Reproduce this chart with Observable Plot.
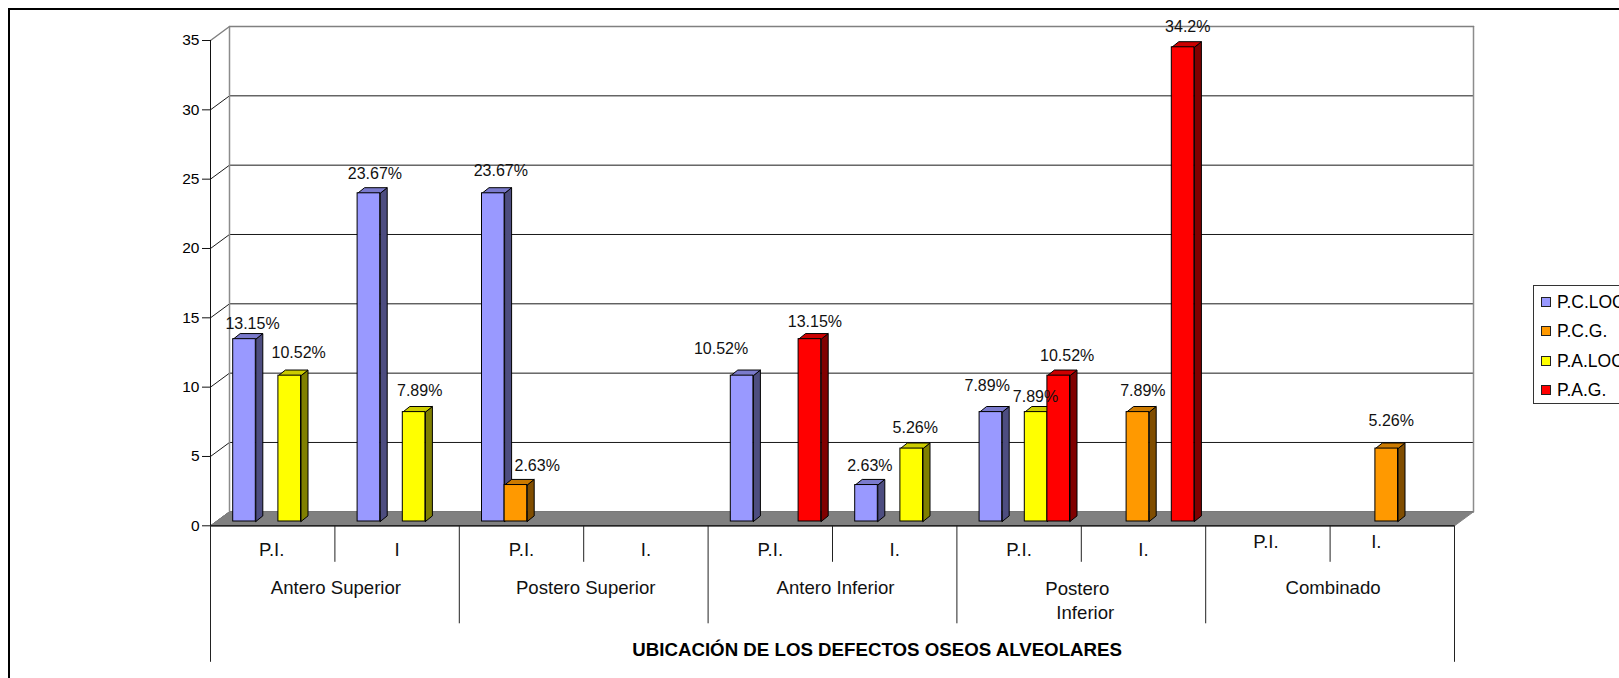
<!DOCTYPE html>
<html>
<head>
<meta charset="utf-8">
<script src="https://cdn.jsdelivr.net/npm/d3@7"></script>
<script src="https://cdn.jsdelivr.net/npm/@observablehq/plot@0.6"></script>
<style>
  html, body { margin: 0; padding: 0; background: #fff; overflow: hidden; }
  #page { position: relative; width: 1619px; height: 678px; overflow: hidden; font-family: "Liberation Sans", Arial, sans-serif; }
  #page svg { display: block; position: absolute; left: 0; top: 0; }
  #border { position: absolute; left: 8px; top: 8px; width: 1700px; height: 800px; border: 2px solid #000; box-sizing: border-box; }
  #legend { position: absolute; left: 1533px; top: 285px; width: 130px; height: 119px; border: 1px solid #333; background: #fff; box-sizing: border-box; }
  #legend .row { position: absolute; left: 7px; height: 20px; white-space: nowrap; font-size: 17.5px; line-height: 20px; color: #000; }
  #legend .sw { position: absolute; left: 0; top: 5px; width: 10px; height: 10px; border: 1px solid #222; box-sizing: border-box; }
  #legend .lb { position: absolute; left: 16px; top: 0; }
</style>
</head>
<body>
<div id="page"></div>
<script>
// ---- data ----
const subLabels = ["P.I.", "I", "P.I.", "I.", "P.I.", "I.", "P.I.", "I.", "P.I.", "I."];
const groupLabels = ["Antero Superior", "Postero Superior", "Antero Inferior", "Postero\nInferior", "Combinado"];
const axisTitle = "UBICACIÓN DE LOS DEFECTOS OSEOS ALVEOLARES";
const seriesNames = ["P.C.LOC.", "P.C.G.", "P.A.LOC.", "P.A.G."];
const pcLoc = [13.15, 23.67, 23.67, null, 10.52, 2.63, 7.89, null, null, null];
const pcG   = [null, null, 2.63, null, null, null, null, 7.89, null, 5.26];
const paLoc = [10.52, 7.89, null, null, null, 5.26, 7.89, null, null, null];
const paG   = [null, null, null, null, 13.15, null, 10.52, 34.2, null, null];
const yTicks = [0, 5, 10, 15, 20, 25, 30, 35];

// ---- styling ----
const frontColors = ["#9999FF", "#FF9900", "#FFFF00", "#FF0000"];
const topColors   = ["#7A7ACC", "#CC7A00", "#CCCC00", "#CC0000"];
const sideColors  = ["#4D4D80", "#804D00", "#808000", "#800000"];
const seriesValues = [pcLoc, pcG, paLoc, paG];

// hand-placed offsets of the value labels in the original: "series,category": [right, up]
const labelNudges = {
  "0,0": [8, 15],  "2,0": [9, 23],
  "0,1": [6, 19],  "2,1": [5.6, 21.3],
  "0,2": [7.5, 22.8], "1,2": [21.3, 19.5],
  "0,4": [-21, 27], "3,4": [5, 17.7],
  "0,5": [3.4, 18.8], "2,5": [3.6, 20.6],
  "0,6": [-3.7, 26.6], "2,6": [-0.6, 15], "3,6": [8.5, 19.4],
  "1,7": [5, 21], "3,7": [4.7, 20],
  "1,9": [4.6, 28]
};

// ---- layout ----
const W = 1619, H = 678;
const left = 210, right = 1454, top0 = 40, base = 525.3;
const catPx = (right - left) / 10, valPx = (base - top0) / 35;
const X = px => px / catPx, Y = px => px / valPx;   // pixel lengths to data units
const wallDX = X(19), wallDY = Y(14);
const barDX = X(7), barDY = Y(5.6);
const barW = X(22.6), barOff = X(22.7), barLift = -4.3;

const bars = [];
seriesValues.forEach((vals, s) => vals.forEach((v, c) => {
  if (v == null) return;
  const x1 = c + barOff + s * barW;
  bars.push({s, c, v, x1, x2: x1 + barW});
}));
const polys = (fn, colors) => bars.flatMap(b => fn(b).map(([x, y]) => ({x, y, id: b.s + "-" + b.c, fill: colors[b.s]})));
const sides = polys(b => [[b.x2, 0], [b.x2, b.v], [b.x2 + barDX, b.v + barDY], [b.x2 + barDX, barDY], [b.x2, 0]], sideColors);
const tops  = polys(b => [[b.x1, b.v], [b.x2, b.v], [b.x2 + barDX, b.v + barDY], [b.x1 + barDX, b.v + barDY], [b.x1, b.v]], topColors);

const grid = yTicks.flatMap(t => [
  {x: 0, y: t, t}, {x: wallDX, y: t + wallDY, t}, {x: 10 + wallDX, y: t + wallDY, t}
]);
const floor = [[0, 0], [10, 0], [10 + wallDX, wallDY], [wallDX, wallDY], [0, 0]].map(([x, y]) => ({x, y}));
const wallL = [[wallDX, wallDY], [wallDX, 35 + wallDY]].map(([x, y]) => ({x, y}));
const wallR = [[10 + wallDX, wallDY], [10 + wallDX, 35 + wallDY]].map(([x, y]) => ({x, y}));
const wallTop = [[0, 35], [wallDX, 35 + wallDY], [10 + wallDX, 35 + wallDY]].map(([x, y]) => ({x, y}));

const labels = bars.map(b => {
  const n = labelNudges[b.s + "," + b.c] || [0, 20];
  return {x: (b.x1 + b.x2) / 2 + X(n[0]), y: b.v + Y(n[1]), text: b.v + "%"};
});

// hierarchical category axis under the floor
const dividers = d3.range(0, 11).map(i => ({
  x: i,
  y2: -Y(i % 10 === 0 ? 136.5 : i % 2 === 0 ? 98 : 36.5)
}));
const subPos = subLabels.map((text, i) => ({
  text,
  x: i + 0.5 + (i === 9 ? X(-16) : i === 8 ? X(-2) : i === 0 ? X(-1) : 0),
  y: -Y(i >= 8 ? 16.5 : 24.5)
}));
const groupPos = [
  {text: groupLabels[0], x: 1 + X(1), y: -Y(62)},
  {text: groupLabels[1], x: 3 + X(2), y: -Y(62)},
  {text: groupLabels[2], x: 5 + X(3), y: -Y(62)},
  {text: "Postero", x: 7 + X(-4), y: -Y(63)},
  {text: "Inferior", x: 7 + X(4), y: -Y(87)},
  {text: groupLabels[4], x: 9 + X(3), y: -Y(62)}
];

const chart = Plot.plot({
  width: W, height: H,
  marginLeft: left, marginRight: W - right, marginTop: top0, marginBottom: H - base,
  x: {domain: [0, 10], range: [left, right], axis: null},
  y: {domain: [0, 35], range: [base, top0], axis: null},
  color: {type: "identity"},
  style: {background: "transparent", fontFamily: "'Liberation Sans', Arial, sans-serif", overflow: "visible"},
  marks: [
    // back wall and gridlines
    Plot.line(grid.filter(d => d.t !== 35), {x: "x", y: "y", z: "t", stroke: "#1a1a1a", strokeWidth: 1}),
    Plot.line(wallL, {x: "x", y: "y", stroke: "#8c8c8c", strokeWidth: 1.5}),
    Plot.line(wallR, {x: "x", y: "y", stroke: "#8c8c8c", strokeWidth: 1.5}),
    Plot.line(wallTop, {x: "x", y: "y", stroke: "#808080", strokeWidth: 1.5}),
    // floor
    Plot.line(floor, {x: "x", y: "y", fill: "#808080", stroke: "#808080", strokeWidth: 1}),
    // axes
    Plot.ruleX([0], {y1: 0, y2: 35, stroke: "#111", strokeWidth: 1}),
    Plot.ruleY([0], {x1: 0, x2: 10, stroke: "#000", strokeWidth: 1.2}),
    Plot.axisY({ticks: yTicks, tickSize: 8, tickPadding: 3, label: null, fontSize: 15.5, tickFormat: d => d, stroke: "#111", color: "#000"}),
    Plot.ruleX(dividers, {x: "x", y1: 0, y2: "y2", stroke: "#222", strokeWidth: 1}),
    // 3-D columns: sides, tops, fronts
    Plot.line(sides, {x: "x", y: "y", z: "id", fill: "fill", stroke: "#000", strokeWidth: 1, strokeLinejoin: "round", dy: barLift}),
    Plot.line(tops, {x: "x", y: "y", z: "id", fill: "fill", stroke: "#000", strokeWidth: 1, strokeLinejoin: "round", dy: barLift}),
    Plot.rect(bars, {x1: "x1", x2: "x2", y1: 0, y2: "v", fill: d => frontColors[d.s], stroke: "#000", strokeWidth: 1, dy: barLift}),
    // value labels
    Plot.text(labels, {x: "x", y: "y", text: "text", fontSize: 16, fill: "#111", textAnchor: "middle", lineAnchor: "middle", dy: barLift}),
    // category labels
    Plot.text(subPos, {x: "x", y: "y", text: "text", fontSize: 18.6, fill: "#111", lineAnchor: "middle"}),
    Plot.text(groupPos, {x: "x", y: "y", text: "text", fontSize: 18.6, fill: "#111", lineAnchor: "middle"}),
    Plot.text([axisTitle], {x: X(876.6 - left), y: -Y(124.5), fontSize: 18.7, fontWeight: "bold", fill: "#000", lineAnchor: "middle"})
  ]
});

const page = document.getElementById("page");
page.appendChild(chart);

const border = document.createElement("div");
border.id = "border";
page.appendChild(border);

const legend = document.createElement("div");
legend.id = "legend";
seriesNames.forEach((name, i) => {
  const row = document.createElement("div");
  row.className = "row";
  row.style.top = (6 + i * 29.3) + "px";
  const sw = document.createElement("span");
  sw.className = "sw";
  sw.style.background = frontColors[i];
  const lb = document.createElement("span");
  lb.className = "lb";
  lb.textContent = name;
  row.append(sw, lb);
  legend.appendChild(row);
});
page.appendChild(legend);
</script>
</body>
</html>
